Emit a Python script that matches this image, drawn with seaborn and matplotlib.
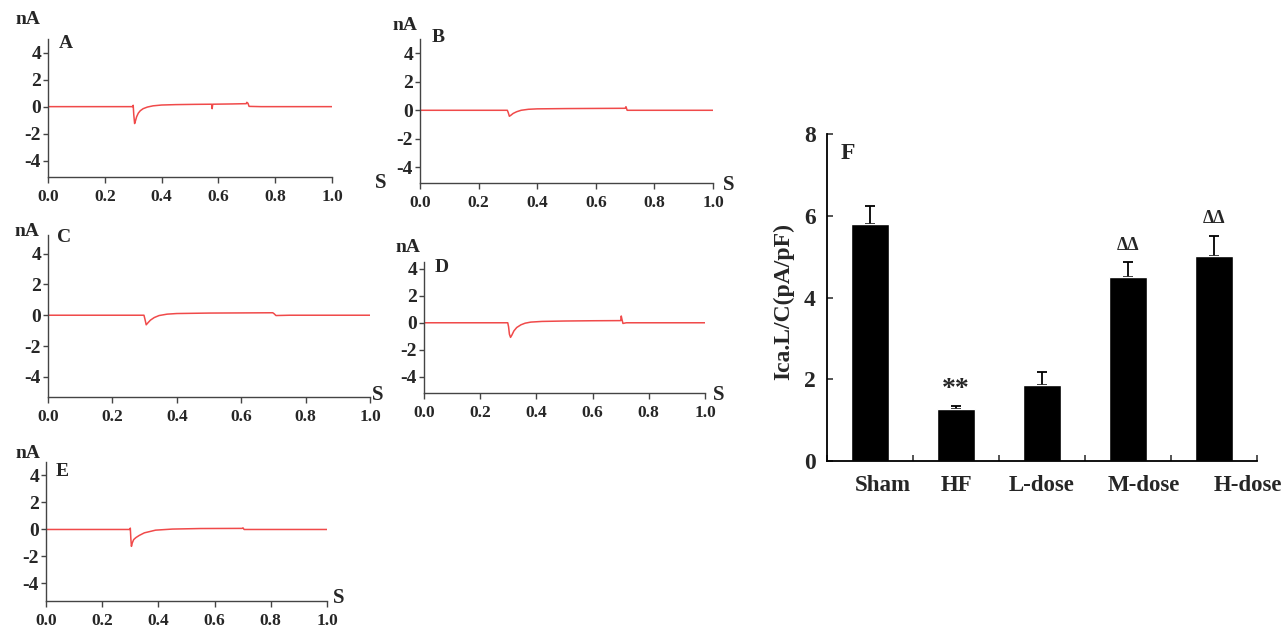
import numpy as np
import pandas as pd
import matplotlib
matplotlib.use("Agg")
import matplotlib.pyplot as plt
import seaborn as sns

# current traces, time (s) and current (nA)
tA = [0.0, 0.298, 0.300, 0.302, 0.305, 0.308, 0.312, 0.318, 0.325, 0.335, 0.35, 0.37, 0.40,
      0.45, 0.52, 0.576, 0.578, 0.580, 0.65, 0.698, 0.700, 0.704, 0.708, 0.75, 0.85, 1.0]
iA = [0.0, 0.0, 0.1, -0.6, -1.25, -1.05, -0.75, -0.48, -0.3, -0.15, -0.03, 0.06, 0.12,
      0.15, 0.17, 0.18, -0.15, 0.18, 0.2, 0.22, 0.32, 0.25, 0.02, 0.0, 0.0, 0.0]

tB = [0.0, 0.298, 0.301, 0.305, 0.31, 0.318, 0.33, 0.345, 0.37, 0.40, 0.5, 0.6,
      0.700, 0.703, 0.707, 0.75, 1.0]
iB = [0.0, 0.0, -0.15, -0.42, -0.35, -0.22, -0.1, 0.0, 0.07, 0.1, 0.12, 0.13,
      0.14, 0.25, 0.0, 0.0, 0.0]

tC = [0.0, 0.298, 0.301, 0.305, 0.31, 0.318, 0.33, 0.345, 0.37, 0.40, 0.5, 0.6,
      0.698, 0.702, 0.708, 0.75, 1.0]
iC = [0.0, 0.0, -0.25, -0.62, -0.5, -0.32, -0.15, -0.02, 0.07, 0.11, 0.14, 0.15,
      0.16, 0.1, -0.02, 0.0, 0.0]

tD = [0.0, 0.298, 0.301, 0.304, 0.308, 0.313, 0.32, 0.33, 0.345, 0.36, 0.38, 0.42,
      0.5, 0.6, 0.700, 0.702, 0.704, 0.708, 0.72, 1.0]
iD = [0.0, 0.0, -0.3, -0.85, -1.08, -0.9, -0.6, -0.35, -0.15, -0.03, 0.05, 0.1,
      0.13, 0.15, 0.16, 0.5, 0.3, -0.05, 0.0, 0.0]

tE = [0.0, 0.298, 0.300, 0.302, 0.304, 0.307, 0.312, 0.32, 0.332, 0.35, 0.39, 0.45,
      0.55, 0.698, 0.701, 0.705, 0.75, 1.0]
iE = [0.0, 0.0, 0.1, -0.7, -1.25, -1.0, -0.75, -0.6, -0.44, -0.25, -0.05, 0.03,
      0.07, 0.08, 0.12, 0.0, 0.0, 0.0]

# panel F: L-type calcium current density
groups = ["Sham", "HF", "L-dose", "M-dose", "H-dose"]
ica_mean = [5.79, 1.26, 1.87, 4.51, 5.02]
ica_sem = [0.44, 0.08, 0.31, 0.35, 0.49]
marks = ["", "**", "", "ΔΔ", "ΔΔ"]

x_ticks = [0.0, 0.2, 0.4, 0.6, 0.8, 1.0]
y_ticks = [-4, -2, 0, 2, 4]

W, H = 1284, 627
RED = "#f04a4a"
AX = "#444444"

sns.set_style("ticks")
plt.rcParams["font.family"] = ["Liberation Serif", "DejaVu Serif"]
plt.rcParams["font.weight"] = "bold"

fig = plt.figure(figsize=(W / 100, H / 100), dpi=100)


def rect(x0, x1, y0, y1):
    return [x0 / W, 1 - y1 / H, (x1 - x0) / W, (y1 - y0) / H]


def ftext(x, y, s, size):
    fig.text(x / W, 1 - y / H, s, ha="center", va="center", fontsize=size, fontweight="bold")


# (t, i, letter, axes box px, ylim, nA pos, letter pos, S pos)
panels = [
    (tA, iA, "A", (48, 332, 39, 177), (-5.2, 5.0), (28, 20), (66, 43), (381, 183)),
    (tB, iB, "B", (420, 713, 39, 183), (-5.1, 5.0), (405, 26), (438, 38), (729, 185)),
    (tC, iC, "C", (48, 370, 235, 397), (-5.3, 5.2), (27, 231), (64, 238), (378, 395)),
    (tD, iD, "D", (424, 705, 262, 393), (-5.2, 4.5), (408, 247), (442, 267), (719, 395)),
    (tE, iE, "E", (46, 327, 462, 601), (-5.3, 5.0), (28, 453), (62, 471), (339, 598)),
]

for t, cur, letter, box, ylim, pos_na, pos_let, pos_s in panels:
    ax = fig.add_axes(rect(*box))
    sns.lineplot(x=t, y=cur, ax=ax, color=RED, linewidth=1.1, estimator=None, sort=False)
    ax.set_xlim(0, 1.0)
    ax.set_ylim(*ylim)
    ax.set_xticks(x_ticks, [f"{v:.1f}" for v in x_ticks])
    ax.set_yticks(y_ticks, [str(v) for v in y_ticks])
    sns.despine(ax=ax)
    for sp in ["left", "bottom"]:
        ax.spines[sp].set_color(AX)
        ax.spines[sp].set_linewidth(1.0)
    ax.tick_params(axis="x", length=4.5, width=1.0, color=AX, pad=4, labelsize=12.5)
    ax.tick_params(axis="y", length=3.5, width=1.0, color=AX, pad=1.5, labelsize=14)
    for lab in ax.get_xticklabels() + ax.get_yticklabels():
        lab.set_fontweight("bold")
    ax.set_xlabel("")
    ax.set_ylabel("")
    ftext(*pos_na, "nA", 14)
    ftext(*pos_let, letter, 14)
    ftext(*pos_s, "S", 15)

# bar chart F
df = pd.DataFrame({"group": groups, "ica": ica_mean, "sem": ica_sem})
axf = fig.add_axes(rect(827, 1257, 134, 461))
axf.errorbar(np.arange(len(groups)), df["ica"], yerr=[np.zeros(len(groups)), df["sem"]],
             fmt="none", ecolor="black", elinewidth=1.3, capsize=3.3, capthick=1.3, zorder=1)
sns.barplot(data=df, x="group", y="ica", ax=axf, color="black", saturation=1,
            width=0.44, errorbar=None, zorder=2)
for k, m in enumerate(marks):
    if m:
        size = 20 if m == "**" else 13
        axf.text(k, ica_mean[k] + ica_sem[k] + 0.42, m, ha="center", va="center",
                 fontsize=size, fontweight="bold")

axf.set_xlim(-0.5, 4.5)
axf.set_ylim(0, 8)
axf.set_yticks([0, 2, 4, 6, 8])
label_shift = [0.15, 0.0, 0.0, 0.18, 0.4]
axf.set_xticks(np.arange(len(groups)) + np.array(label_shift), groups)
axf.set_xticks(np.arange(-0.5, 4.6, 1.0), minor=True)
sns.despine(ax=axf)
for sp in ["left", "bottom"]:
    axf.spines[sp].set_color("black")
    axf.spines[sp].set_linewidth(1.3)
axf.tick_params(axis="x", which="major", length=0, pad=10, labelsize=16.5)
axf.tick_params(axis="x", which="minor", length=4, width=1.1, direction="in")
axf.tick_params(axis="y", length=4, width=1.1, direction="in", pad=8, labelsize=17)
for lab in axf.get_xticklabels() + axf.get_yticklabels():
    lab.set_fontweight("bold")
axf.set_xlabel("")
axf.set_ylabel("")
ftext(848, 153, "F", 17)
fig.text(784 / W, 1 - 302 / H, "Ica.L/C(pA/pF)", rotation=90, ha="center", va="center",
         fontsize=17, fontweight="bold")

fig.savefig("out.png", dpi=100)
